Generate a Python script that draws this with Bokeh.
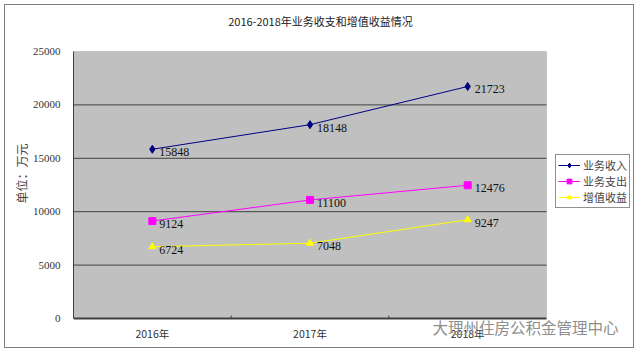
from bokeh.plotting import figure
from bokeh.models import (Legend, LegendItem, Label, FixedTicker, ColumnDataSource,
                          Range1d, BoxAnnotation)
from bokeh.core.properties import value
from bokeh.embed import file_html
from bokeh.resources import INLINE

years = ["2016年", "2017年", "2018年"]
income = [15848, 18148, 21723]
expense = [9124, 11100, 12476]
gain = [6724, 7048, 9247]
series_names = ["业务收入", "业务支出", "增值收益"]
y_ticks = [0, 5000, 10000, 15000, 20000, 25000]
title_text = "2016-2018年业务收支和增值收益情况"
y_label = "单位：万元"
watermark = "大理州住房公积金管理中心"

n = len(years)
xs = [i + 0.5 for i in range(n)]
y_max = y_ticks[-1]

# ---- layout constants (pixels) ----
CANVAS_W, CANVAS_H = 630, 344
LEFT, BOTTOM = 68, 8
FRAME_W = CANVAS_W - LEFT          # frame holds plot area + legend + title region
FRAME_H = CANVAS_H - BOTTOM
PLOT_W, PLOT_H = 473, 267          # grey plotting area
PAD_TOP, PAD_BOTTOM = 46, 23       # frame space above / below the plotting area

y_unit = y_max / PLOT_H
p = figure(width=CANVAS_W, height=CANVAS_H, title=None,
           x_range=Range1d(0, n * FRAME_W / PLOT_W),
           y_range=Range1d(-PAD_BOTTOM * y_unit, y_max + PAD_TOP * y_unit),
           output_backend="svg", toolbar_location=None,
           min_border_left=LEFT, min_border_right=0, min_border_top=0,
           min_border_bottom=BOTTOM,
           margin=(4, 4, 4, 4),
           styles={"border": "1px solid #7f7f7f"})
p.background_fill_color = "white"
p.border_fill_color = "white"
p.outline_line_color = None
p.xgrid.grid_line_color = None
p.ygrid.grid_line_color = None

# grey plotting area
p.add_layout(BoxAnnotation(left=0, right=n, bottom=0, top=y_max,
                           fill_color="#c0c0c0", fill_alpha=1,
                           line_color="#8a8a8a", line_width=1, level="underlay"))
# horizontal grid lines limited to the plotting area
grid_vals = y_ticks[1:-1]
p.segment(x0=[0] * len(grid_vals), x1=[n] * len(grid_vals), y0=grid_vals, y1=grid_vals,
          line_color="#404040", line_width=1)
# category axis line and small separator ticks
p.segment(x0=[0], x1=[n], y0=[0], y1=[0], line_color="#404040", line_width=2)
seps = list(range(1, n))
p.segment(x0=seps, x1=seps, y0=[0] * len(seps), y1=[3 * y_unit] * len(seps),
          line_color="#404040", line_width=1)

# y axis
p.yaxis.ticker = FixedTicker(ticks=y_ticks)
p.yaxis.bounds = (0, y_max)
p.yaxis.major_tick_line_color = None
p.yaxis.minor_tick_line_color = None
p.yaxis.major_tick_out = 0
p.yaxis.major_tick_in = 0
p.yaxis.minor_tick_out = 0
p.yaxis.axis_line_color = "#404040"
p.yaxis.major_label_text_font = "Liberation Serif"
p.yaxis.major_label_text_font_size = "11px"
p.yaxis.major_label_text_color = "#333333"
p.yaxis.major_label_standoff = 13
p.yaxis.axis_label = y_label
p.yaxis.axis_label_text_font = "Noto Sans CJK SC"
p.yaxis.axis_label_text_font_style = "normal"
p.yaxis.axis_label_text_font_size = "12px"
p.yaxis.axis_label_text_color = "#444444"
p.yaxis.axis_label_standoff = 0

# x axis (labels only; line drawn above at y = 0)
p.xaxis.ticker = FixedTicker(ticks=xs, minor_ticks=[])
p.xaxis.major_label_overrides = {x: y for x, y in zip(xs, years)}
p.xaxis.axis_line_color = None
p.xaxis.major_tick_line_color = None
p.xaxis.minor_tick_line_color = None
p.xaxis.major_tick_out = 0
p.xaxis.major_tick_in = 0
p.xaxis.minor_tick_out = 0
p.xaxis.minor_tick_in = 0
p.xaxis.major_label_text_font = "Noto Sans CJK SC"
p.xaxis.major_label_text_font_size = "10.5px"
p.xaxis.major_label_text_color = "#333333"
p.xaxis.major_label_standoff = -16

colors = ["#000080", "#FF00FF", "#FFFF00"]
markers = ["diamond", "square", "triangle"]
sizes = [8, 7, 7]
items = []
for name, vals, c, m, s in zip(series_names, [income, expense, gain], colors, markers, sizes):
    src = ColumnDataSource(dict(x=xs, y=vals, t=[str(v) for v in vals]))
    l = p.line("x", "y", source=src, line_color=c, line_width=1)
    sc = p.scatter("x", "y", source=src, marker=m, size=s, fill_color=c, line_color=c)
    p.text("x", "y", text="t", source=src, x_offset=7, y_offset=3,
           text_font=value("Liberation Serif"), text_font_size="12px",
           text_baseline="middle", text_align="left", text_color="#111111")
    items.append(LegendItem(label=name, renderers=[l, sc]))

legend = Legend(items=items, location=(482, 133), orientation="vertical")
legend.border_line_color = "#222222"
legend.border_line_width = 1
legend.background_fill_color = "white"
legend.background_fill_alpha = 1
legend.label_text_font = "Noto Sans CJK SC"
legend.label_text_font_size = "11px"
legend.label_height = 12
legend.glyph_height = 12
legend.glyph_width = 22
legend.spacing = -3
legend.padding = 2
legend.margin = 0
legend.label_standoff = 3
p.add_layout(legend, "center")

# chart title and watermark (screen units relative to the frame's bottom-left)
p.add_layout(Label(x=247, y=FRAME_H - 15, x_units="screen", y_units="screen",
                   text=title_text, text_font="Noto Sans CJK SC", text_font_size="11px",
                   text_align="center", text_baseline="middle", text_color="#222222"))
p.add_layout(Label(x=359, y=15, x_units="screen", y_units="screen",
                   text=watermark, text_font="Noto Sans CJK SC", text_font_size="15.5px",
                   text_align="left", text_baseline="middle", text_color="#8e8e8e"))

open("out.html", "w").write(file_html(p, INLINE))
